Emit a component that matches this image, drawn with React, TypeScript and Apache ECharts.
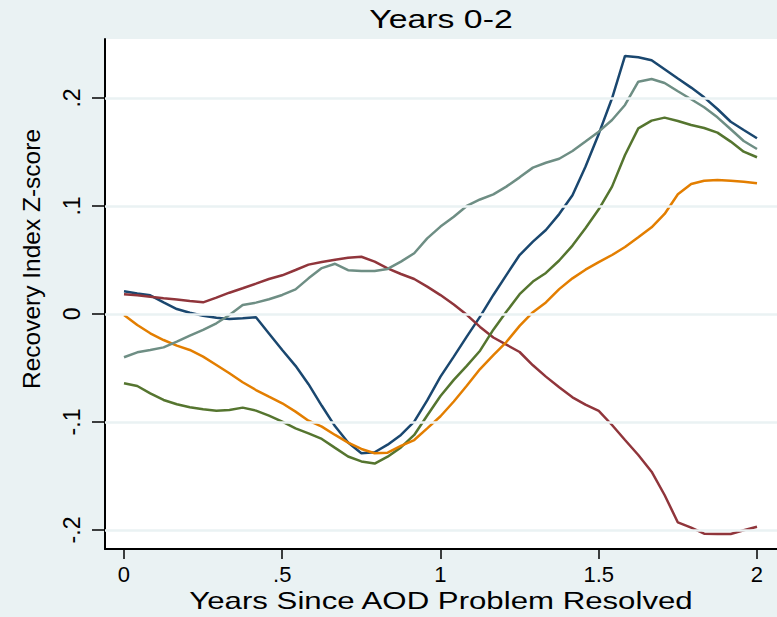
import React, { useEffect, useRef } from "react";
import * as echarts from "echarts";

const years = [
  0, 0.042, 0.083, 0.125, 0.167, 0.208, 0.25, 0.292, 0.333, 0.375, 0.417, 0.458,
  0.5, 0.542, 0.583, 0.625, 0.667, 0.708, 0.75, 0.792, 0.833, 0.875, 0.917, 0.958,
  1, 1.042, 1.083, 1.125, 1.167, 1.208, 1.25, 1.292, 1.333, 1.375, 1.417, 1.458,
  1.5, 1.542, 1.583, 1.625, 1.667, 1.708, 1.75, 1.792, 1.833, 1.875, 1.917, 1.958, 2,
];

const navy = [
  0.021, 0.019, 0.0173, 0.0108, 0.0046, 0.0012, -0.0016, -0.0034, -0.0046, -0.004, -0.0031, -0.018,
  -0.0333, -0.048, -0.065, -0.085, -0.104, -0.119, -0.129, -0.128, -0.121, -0.112, -0.0997, -0.08,
  -0.058, -0.0395, -0.021, -0.0025, 0.0176, 0.036, 0.0546, 0.067, 0.0778, 0.0925, 0.11, 0.1364,
  0.1667, 0.1997, 0.2389, 0.2377, 0.235, 0.2266, 0.218, 0.2096, 0.2006, 0.1898, 0.178, 0.1704, 0.1627,
];

const maroon = [
  0.0182, 0.0173, 0.016, 0.0145, 0.0133, 0.012, 0.0108, 0.0151, 0.0197, 0.0238, 0.0281, 0.0324,
  0.0358, 0.0407, 0.0457, 0.0481, 0.0503, 0.052, 0.053, 0.0485, 0.0423, 0.037, 0.0324, 0.0253,
  0.0175, 0.0087, -0.0008, -0.012, -0.0218, -0.0284, -0.0352, -0.0475, -0.058, -0.0678, -0.0772, -0.084,
  -0.0898, -0.1028, -0.1167, -0.1306, -0.146, -0.1676, -0.193, -0.1978, -0.2034, -0.2037, -0.2037, -0.2003, -0.197,
];

const green = [
  -0.0642, -0.0667, -0.0735, -0.0796, -0.0836, -0.0864, -0.0883, -0.0895, -0.0889, -0.0867, -0.0895, -0.0941,
  -0.0997, -0.1059, -0.1105, -0.1157, -0.124, -0.132, -0.1365, -0.1385, -0.1321, -0.1235, -0.112, -0.094,
  -0.076, -0.061, -0.048, -0.034, -0.0145, 0.002, 0.0183, 0.03, 0.038, 0.0495, 0.0633, 0.0793,
  0.0969, 0.1179, 0.1472, 0.1719, 0.179, 0.1818, 0.1787, 0.175, 0.1722, 0.1679, 0.1596, 0.1503, 0.1451,
];

const orange = [
  -0.0009, -0.0102, -0.0179, -0.0241, -0.0293, -0.0333, -0.0395, -0.0472, -0.0549, -0.0632, -0.0704, -0.0765,
  -0.0827, -0.0904, -0.0988, -0.1043, -0.112, -0.1191, -0.125, -0.129, -0.1284, -0.1222, -0.1167, -0.1059,
  -0.0947, -0.081, -0.0665, -0.051, -0.038, -0.026, -0.011, 0.0017, 0.0107, 0.023, 0.033, 0.041,
  0.048, 0.0546, 0.062, 0.071, 0.0802, 0.0926, 0.1108, 0.1204, 0.1234, 0.1241, 0.1234, 0.1225, 0.121,
];

const teal = [
  -0.0401, -0.0355, -0.0333, -0.0309, -0.0256, -0.02, -0.0148, -0.0086, -0.0009, 0.0083, 0.0105, 0.0136,
  0.0176, 0.0228, 0.033, 0.0425, 0.0465, 0.0405, 0.0398, 0.0398, 0.0417, 0.0485, 0.0562, 0.07,
  0.0809, 0.09, 0.1, 0.106, 0.1108, 0.1179, 0.1265, 0.1355, 0.14, 0.1437, 0.1509, 0.1596,
  0.1688, 0.1796, 0.1935, 0.2151, 0.2176, 0.2139, 0.2062, 0.1988, 0.1914, 0.1821, 0.171, 0.1602, 0.1528,
];

const xTicks = [0, 0.5, 1, 1.5, 2];
const xTickLabels = ["0", ".5", "1", "1.5", "2"];
const yTicks = [-0.2, -0.1, 0, 0.1, 0.2];
const yTickLabels = ["-.2", "-.1", "0", ".1", ".2"];

const titleText = "Years 0-2";
const xTitle = "Years Since AOD Problem Resolved";
const yTitle = "Recovery Index Z-score";

const seriesDefs = [
  { name: "navy", values: navy, color: "#1a476f" },
  { name: "maroon", values: maroon, color: "#90353b" },
  { name: "green", values: green, color: "#55752f" },
  { name: "orange", values: orange, color: "#e37e00" },
  { name: "teal", values: teal, color: "#6e8e84" },
];

const FONT = "'Liberation Sans', Arial, Helvetica, sans-serif";

export default function App() {
  const ref = useRef<HTMLDivElement>(null);
  useEffect(() => {
    if (!ref.current) return;
    const chart = echarts.init(ref.current, undefined, { renderer: "svg" });
    const labelFor = (ticks: number[], labels: string[]) => (v: number) => {
      const i = ticks.findIndex((t) => Math.abs(t - v) < 1e-6);
      return i >= 0 ? labels[i] : "";
    };
    const option: any = {
      animation: false,
      backgroundColor: "#eaf2f3",
      grid: {
        left: 105,
        right: 0,
        top: 39,
        bottom: 68,
        show: true,
        backgroundColor: "#ffffff",
        borderWidth: 0,
      },
      xAxis: {
        type: "value",
        min: -0.06,
        max: 2.0632,
        axisLine: { show: true, onZero: false, lineStyle: { color: "#000", width: 2 } },
        axisTick: { show: true, length: 10, customValues: xTicks, lineStyle: { color: "#000", width: 1.5 } },
        axisLabel: {
          customValues: xTicks,
          formatter: labelFor(xTicks, xTickLabels),
          color: "#000",
          fontFamily: FONT,
          fontSize: 22,
          margin: 14,
        },
        splitLine: { show: false },
      },
      yAxis: {
        type: "value",
        min: -0.2176,
        max: 0.2546,
        axisLine: { show: true, onZero: false, lineStyle: { color: "#000", width: 2 } },
        axisTick: { show: true, length: 13, customValues: yTicks, lineStyle: { color: "#000", width: 1.5 } },
        axisLabel: {
          customValues: yTicks,
          formatter: labelFor(yTicks, yTickLabels),
          rotate: 90,
          color: "#000",
          fontFamily: FONT,
          fontSize: 23,
          margin: 22,
        },
        splitLine: { show: false },
      },
      graphic: [
        {
          type: "text",
          x: 441,
          y: 19,
          scaleX: 1.3,
          style: {
            text: titleText,
            font: `26px ${FONT}`,
            fill: "#000",
            textAlign: "center",
            textVerticalAlign: "middle",
          },
        },
        {
          type: "text",
          x: 441,
          y: 601,
          scaleX: 1.3,
          style: {
            text: xTitle,
            font: `24px ${FONT}`,
            fill: "#000",
            textAlign: "center",
            textVerticalAlign: "middle",
          },
        },
        {
          type: "text",
          x: 31,
          y: 259,
          rotation: Math.PI / 2,
          style: {
            text: yTitle,
            font: `24.5px ${FONT}`,
            fill: "#000",
            textAlign: "center",
            textVerticalAlign: "middle",
          },
        },
      ],
      series: [
        {
          type: "line",
          name: "grid",
          data: [],
          z: 1,
          silent: true,
          markLine: {
            silent: true,
            symbol: "none",
            label: { show: false },
            lineStyle: { color: "#eaf2f3", width: 2.5, type: "solid" },
            data: yTicks.map((v) => ({ yAxis: v })),
          },
        },
        ...seriesDefs.map((s) => ({
          type: "line",
          name: s.name,
          data: years.map((x, i) => [x, s.values[i]]),
          showSymbol: false,
          symbol: "none",
          z: 3,
          lineStyle: { color: s.color, width: 2.5 },
          itemStyle: { color: s.color },
        })),
      ],
    };
    chart.setOption(option);
    return () => chart.dispose();
  }, []);
  return (
    <div
      ref={ref}
      style={{ position: "absolute", left: 0, top: 0, width: 777, height: 617 }}
    />
  );
}
